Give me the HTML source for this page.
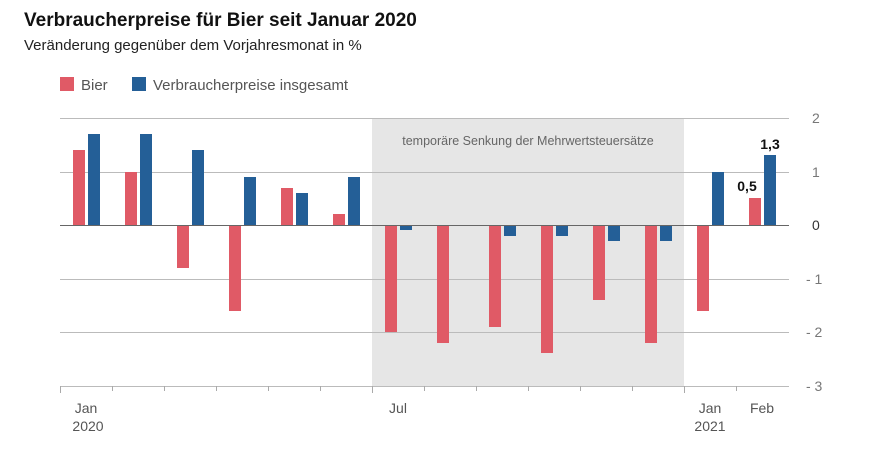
<!DOCTYPE html>
<html><head><meta charset="utf-8"><style>
body{margin:0;background:#fff;}
svg text{font-family:"Liberation Sans",sans-serif;}
</style></head><body>
<svg width="880" height="469" viewBox="0 0 880 469" xmlns="http://www.w3.org/2000/svg">
<text x="24" y="26" font-size="19" font-weight="bold" fill="#111">Verbraucherpreise für Bier seit Januar 2020</text>
<text x="24" y="50" font-size="15" fill="#222">Veränderung gegenüber dem Vorjahresmonat in %</text>
<rect x="60" y="77" width="14" height="14" fill="#e05a66"/>
<text x="81" y="90" font-size="15" fill="#555">Bier</text>
<rect x="132" y="77" width="14" height="14" fill="#245f97"/>
<text x="153" y="90" font-size="15" fill="#555">Verbraucherpreise insgesamt</text>
<rect x="372" y="118" width="312" height="268" fill="#e6e6e6"/>
<text x="528" y="145" font-size="12.5" fill="#666" text-anchor="middle">temporäre Senkung der Mehrwertsteuersätze</text>
<g stroke="#bbb" stroke-width="1">
<line x1="60" y1="118.5" x2="789" y2="118.5"/>
<line x1="60" y1="172.5" x2="789" y2="172.5"/>
<line x1="60" y1="279.5" x2="789" y2="279.5"/>
<line x1="60" y1="332.5" x2="789" y2="332.5"/>
<line x1="60" y1="386.5" x2="789" y2="386.5"/>
</g>
<g fill="#777" font-size="14">
<text x="812" y="123">2</text><text x="812" y="177">1</text><text x="812" y="230" fill="#333">0</text>
<text x="806" y="284">- 1</text><text x="806" y="337">- 2</text><text x="806" y="391">- 3</text>
</g>
<g stroke="#aaa">
<line x1="60.5" y1="386" x2="60.5" y2="393"/><line x1="112.5" y1="386" x2="112.5" y2="391"/><line x1="164.5" y1="386" x2="164.5" y2="391"/><line x1="216.5" y1="386" x2="216.5" y2="391"/><line x1="268.5" y1="386" x2="268.5" y2="391"/><line x1="320.5" y1="386" x2="320.5" y2="391"/><line x1="372.5" y1="386" x2="372.5" y2="393"/><line x1="424.5" y1="386" x2="424.5" y2="391"/><line x1="476.5" y1="386" x2="476.5" y2="391"/><line x1="528.5" y1="386" x2="528.5" y2="391"/><line x1="580.5" y1="386" x2="580.5" y2="391"/><line x1="632.5" y1="386" x2="632.5" y2="391"/><line x1="684.5" y1="386" x2="684.5" y2="393"/><line x1="736.5" y1="386" x2="736.5" y2="391"/>
</g>
<g fill="#555" font-size="14" text-anchor="middle">
<text x="86" y="413">Jan</text><text x="88" y="431">2020</text>
<text x="398" y="413">Jul</text>
<text x="710" y="413">Jan</text><text x="710" y="431">2021</text>
<text x="762" y="413">Feb</text>
</g>
<g fill="#e05a66">
<rect x="73" y="150" width="12" height="75"/>
<rect x="125" y="172" width="12" height="53"/>
<rect x="177" y="225" width="12" height="43"/>
<rect x="229" y="225" width="12" height="86"/>
<rect x="281" y="188" width="12" height="37"/>
<rect x="333" y="214" width="12" height="11"/>
<rect x="385" y="225" width="12" height="107"/>
<rect x="437" y="225" width="12" height="118"/>
<rect x="489" y="225" width="12" height="102"/>
<rect x="541" y="225" width="12" height="128"/>
<rect x="593" y="225" width="12" height="75"/>
<rect x="645" y="225" width="12" height="118"/>
<rect x="697" y="225" width="12" height="86"/>
<rect x="749" y="198" width="12" height="27"/>
</g>
<g fill="#245f97">
<rect x="88" y="134" width="12" height="91"/>
<rect x="140" y="134" width="12" height="91"/>
<rect x="192" y="150" width="12" height="75"/>
<rect x="244" y="177" width="12" height="48"/>
<rect x="296" y="193" width="12" height="32"/>
<rect x="348" y="177" width="12" height="48"/>
<rect x="400" y="225" width="12" height="5"/>
<rect x="504" y="225" width="12" height="11"/>
<rect x="556" y="225" width="12" height="11"/>
<rect x="608" y="225" width="12" height="16"/>
<rect x="660" y="225" width="12" height="16"/>
<rect x="712" y="172" width="12" height="53"/>
<rect x="764" y="155" width="12" height="70"/>
</g>
<line x1="60" y1="225.5" x2="789" y2="225.5" stroke="#666" stroke-width="1"/>
<text x="747" y="191" font-size="14" font-weight="bold" fill="#111" text-anchor="middle">0,5</text>
<text x="770" y="149" font-size="14" font-weight="bold" fill="#111" text-anchor="middle">1,3</text>
</svg>
</body></html>
